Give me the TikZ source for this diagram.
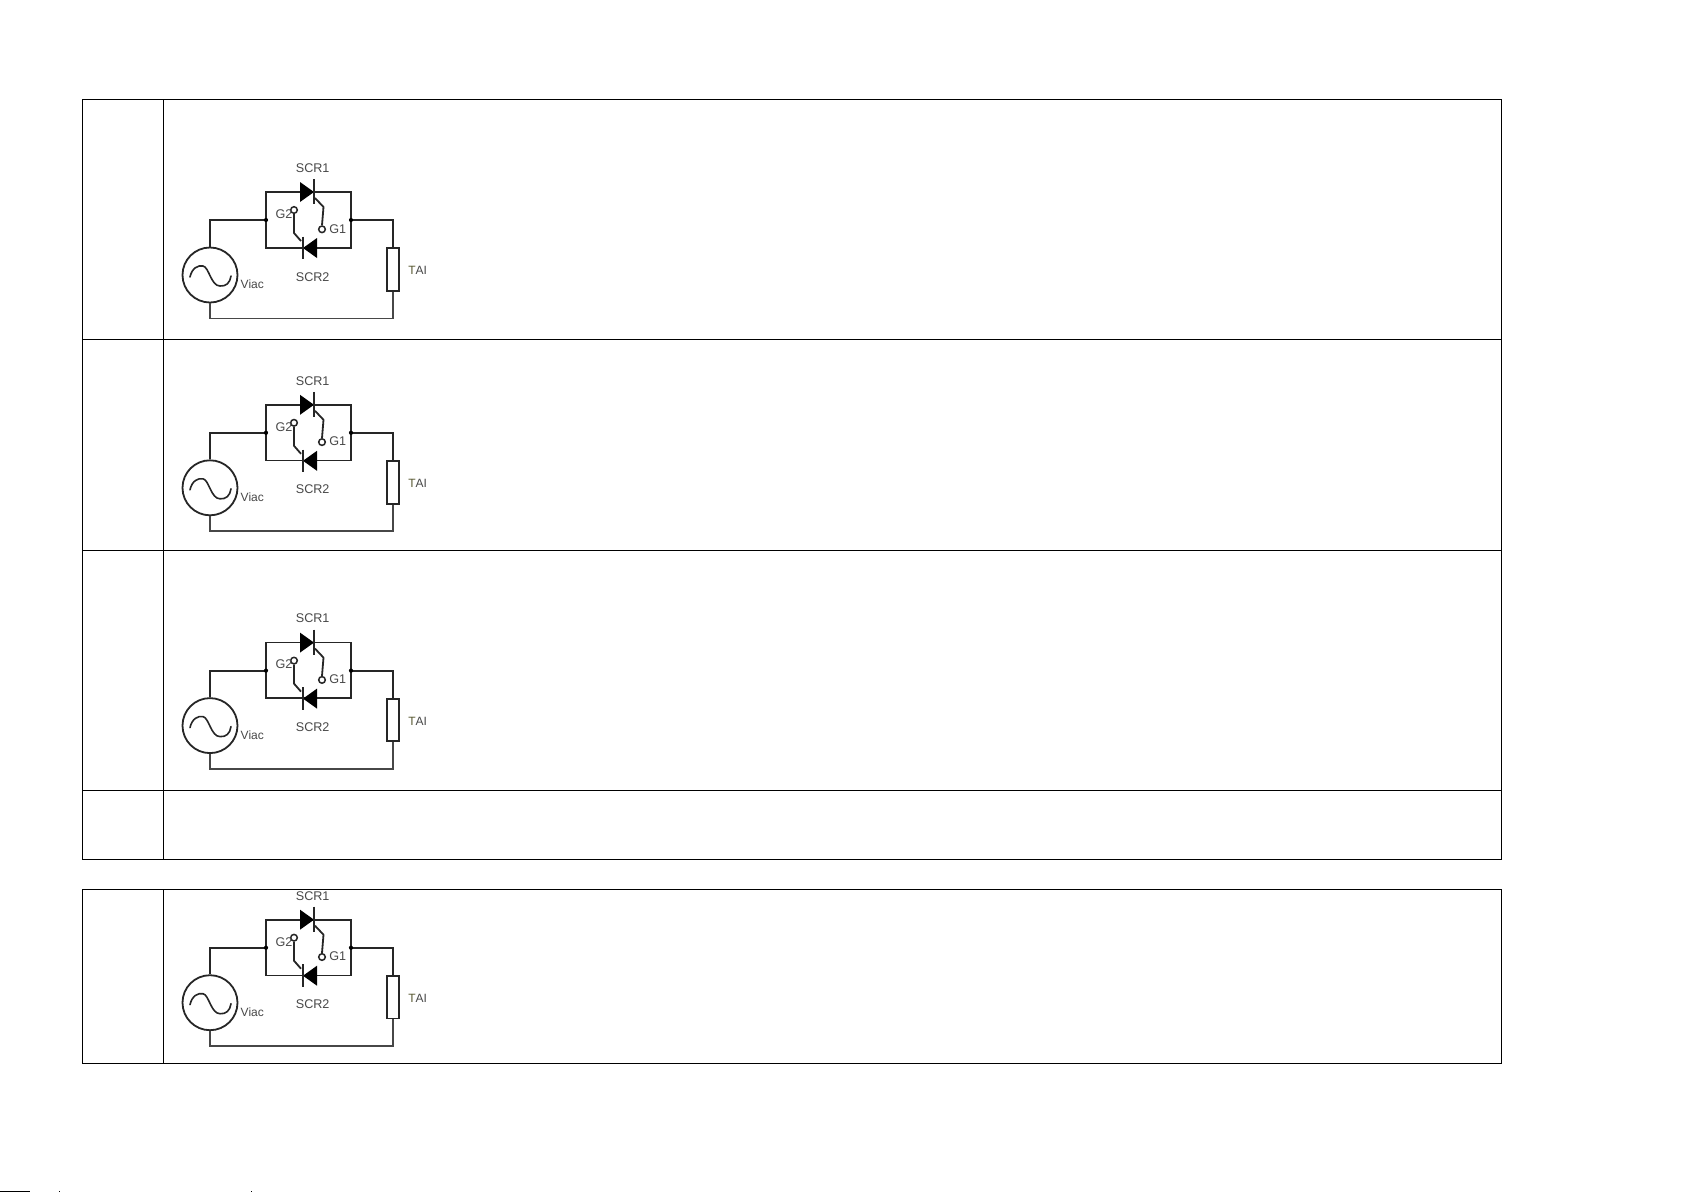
\documentclass[tikz,border=0pt]{standalone}
\usepackage{fontspec}
\setmainfont{Liberation Sans}
\definecolor{wire}{HTML}{262626}
\definecolor{lbl}{HTML}{484848}
\tikzset{
  x=1pt,y=-1pt,
  tableline/.style={draw=black,line width=1.3pt},
  wirehi/.style={draw=wire,line width=2pt,line join=miter},
  wirelo/.style={draw=wire!85,line width=1.6pt,line join=miter},
  scrbody/.style={fill=black,draw=none},
  scrbar/.style={draw=wire,line width=1.5pt},
  gatewire/.style={draw=wire,line width=1.8pt,line join=round},
  gatering/.style={circle,draw=wire,fill=white,line width=1.5pt,inner sep=0pt,minimum size=6.6pt},
  junction/.style={circle,fill=black,inner sep=0pt,minimum size=4.2pt},
  lab/.style={text=lbl,font=\fontsize{12.6}{13}\selectfont,inner sep=0pt},
  labsmall/.style={lab,font=\fontsize{12}{13}\selectfont},
  source/.style={circle,draw=wire,line width=1.8pt,inner sep=0pt,minimum size=55pt},
  loadbox/.style={rectangle,draw=wire,fill=white,line width=1.9pt,inner sep=0pt,minimum width=11.5pt,minimum height=42.5pt},
  pics/scrcircuit/.style={code={
    \coordinate (JL) at (266,220);
    \coordinate (JR) at (351,220);
    \coordinate (TL) at (266,192);
    \coordinate (TR) at (351,192);
    \coordinate (BL) at (266,247.7);
    \coordinate (BR) at (351,247.7);
    \coordinate (VT) at (210,220);
    \coordinate (VB) at (210,318.3);
    \coordinate (RT) at (392.8,220);
    \coordinate (RB) at (392.8,318.3);
    \node[source] (V) at (210,275) {};
    \node[loadbox] (R) at (392.8,269.5) {};
    \draw[wirehi] (V.north) -- (VT) -- (JL);
    \draw[wirehi] (JR) -- (RT) -- (R.north);
    \draw[wirelo] (R.south) -- (RB) -- (VB) -- (V.south);
    \draw[wirehi,line width=1.7pt] (BL) -- (TL) -- (TR) -- (BR) -- cycle;
    \node[junction] (DL) at (JL) {};
    \node[junction] (DR) at (JR) {};
    \draw[wire,line width=1.6pt,line cap=round] (190,277) .. controls (192,268) and (198,265) .. (203,266)
       .. controls (209,267) and (211,286) .. (220,286) .. controls (226,286.5) and (230,283) .. (231,276);
    % SCR1
    \fill[scrbody] (300,182) -- (314,192) -- (300,202) -- cycle;
    \draw[scrbar] (314,179) -- (314,204);
    \node[gatering] (G1) at (322,229.3) {};
    \coordinate (A1) at (315,198);
    \coordinate (B1) at (323.5,207);
    \draw[gatewire] (A1) -- (B1) -- (G1.north);
    % SCR2
    \fill[scrbody] (317,238) -- (303,248) -- (317,258) -- cycle;
    \draw[scrbar] (303,236.7) -- (303,259);
    \node[gatering] (G2) at (294,210) {};
    \coordinate (A2) at (301,241);
    \coordinate (B2) at (294,233);
    \draw[gatewire] (A2) -- (B2) -- (G2.south);
    % labels
    \node[lab] (LS1) at (312.7,168) {SCR1};
    \node[lab] (LS2) at (312.7,276.7) {SCR2};
    \node[lab] (LG2) at (284,214) {G2};
    \node[lab] (LG1) at (337.7,228.7) {G1};
    \node[labsmall] (LV) at (252.3,284.3) {Viac};
    \node[labsmall] (LT) at (417.7,270.7) {\textcolor{lbl!70!olive}{T}AI};
  }}
}
\begin{document}
\begin{tikzpicture}
\useasboundingbox (0,0) rectangle (1685,1192);
\fill[white] (0,0) rectangle (1685,1192);
% upper table
\draw[tableline] (82.5,99.5) rectangle (1501.5,859.5);
\draw[tableline] (163.5,99.5) -- (163.5,859.5);
\draw[tableline] (82.5,339.5) -- (1501.5,339.5);
\draw[tableline] (82.5,550.5) -- (1501.5,550.5);
\draw[tableline] (82.5,790.5) -- (1501.5,790.5);
% lower table
\draw[tableline] (82.5,889.5) rectangle (1501.5,1063.5);
\draw[tableline] (163.5,889.5) -- (163.5,1063.5);
% circuits
\pic (c1) at (0,0) {scrcircuit};
\pic (c2) at (0,212.8) {scrcircuit};
\pic (c3) at (0,450.6) {scrcircuit};
\pic (c4) at (0,727.7) {scrcircuit};
% page-bottom remnants
\fill[black] (0,1190.6) rectangle (30,1192);
\fill[black] (58.7,1190.6) rectangle (59.6,1192);
\fill[black] (250.7,1190.6) rectangle (251.6,1192);
\end{tikzpicture}
\end{document}
